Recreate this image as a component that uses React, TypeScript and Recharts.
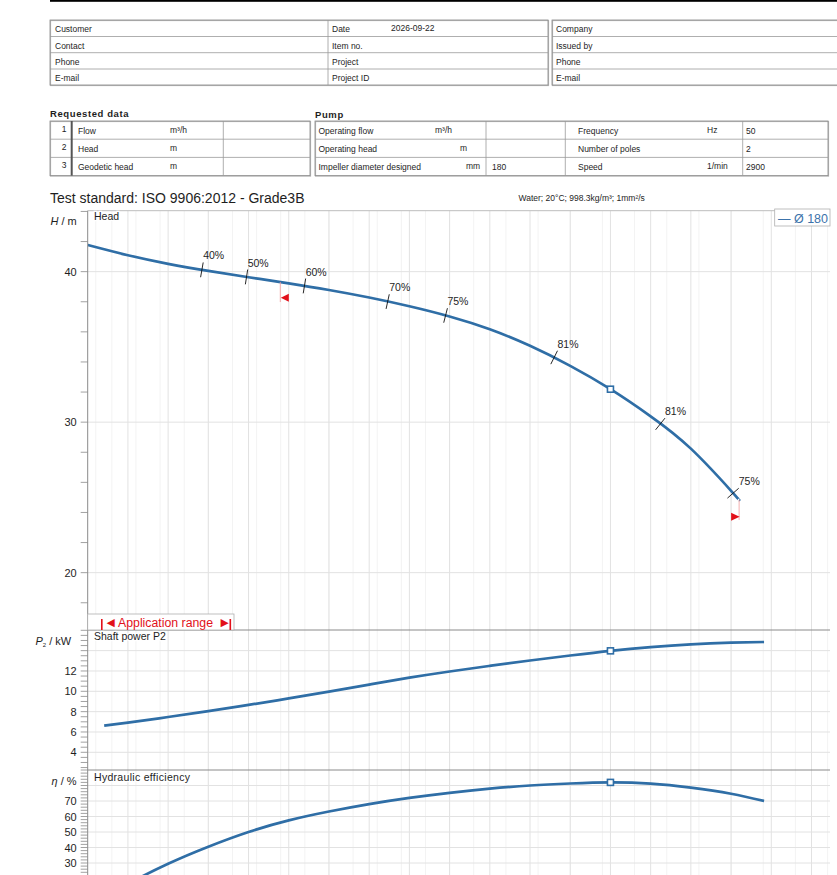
import React from 'react';
import { ComposedChart, Line, Scatter, XAxis, YAxis, CartesianGrid } from 'recharts';

// ---- data (flow in m³/h) ----
const FLOW_MAX = 184.6;
const gridFlows = [10, 20, 30, 40, 50, 60, 70, 80, 90, 100, 110, 120, 130, 140, 150, 160, 170, 180];

const headFlow = [0, 10, 20, 30, 40, 50, 60, 70, 80, 90, 100, 110, 120, 130, 140, 150, 160, 162];
const headValues = [41.77, 41.09, 40.52, 40.05, 39.63, 39.22, 38.78, 38.28, 37.7, 37.02, 36.17, 35.07, 33.74, 32.19, 30.39, 28.24, 25.44, 24.83];

const powerFlow = [4.1, 10, 20, 30, 40, 50, 60, 70, 80, 90, 100, 110, 120, 130, 140, 150, 160, 168.2];
const powerValues = [6.62, 6.92, 7.47, 8.05, 8.66, 9.3, 9.97, 10.66, 11.34, 11.95, 12.5, 13.03, 13.52, 13.98, 14.35, 14.62, 14.78, 14.85];

const effFlow = [4.1, 10, 20, 30, 40, 50, 60, 70, 80, 90, 100, 110, 120, 130, 140, 150, 160, 168.2];
const effValues = [7.5, 16.5, 29.5, 40.5, 50.0, 57.5, 63.2, 68.0, 72.0, 75.3, 78.0, 80.0, 81.3, 82.0, 81.2, 78.6, 74.7, 70.0];

// efficiency marks on the head curve
const effMarkFlow = [28.4, 39.5, 53.9, 74.6, 89, 116, 142.4, 160.5];
const effMarkHead = [40.12, 39.65, 39.05, 38.01, 37.09, 34.3, 29.88, 25.28];
const effMarkLabel = ['40%', '50%', '60%', '70%', '75%', '81%', '81%', '75%'];

// application range limits
const rangeFlow = [47.9, 162];
const rangeHead = [39.31, 24.83];
const rangeDir = ['left', 'right'];

// best efficiency point
const bepFlow = 130;
const bepHead = 32.19;
const bepPower = 13.98;
const bepEff = 82.0;

// axis ticks
const headLabels = [20, 30, 40];
const powerLabels = [4, 6, 8, 10, 12];
const effLabels = [10, 20, 30, 40, 50, 60, 70];
const powerGrid = [4, 6, 8, 10, 12, 14];
const effGrid = [10, 20, 30, 40, 50, 60, 70, 80];

const steps = (from: number, to: number, step: number) => {
  const out: number[] = [];
  for (let v = from; v <= to + 1e-9; v += step) out.push(Math.round(v * 100) / 100);
  return out;
};
const headTicks = steps(18, 44, 2);
const powerTicks = steps(2.5, 16, 0.5);
const effTicks = steps(2, 90, 2);
const minorFlows = steps(2, 184, 2);

// ---- look ----
const BLUE = '#2f6ea6';
const RED = '#e2101a';
const GRID = '#e2e2e2';
const GRID_MINOR = '#f3f3f3';
const AXIS = '#8a8a8a';
const INK = '#1e1e1e';
const FONT = '"Liberation Sans", Arial, Helvetica, sans-serif';

const PLOT_LEFT = 87.7;
const PLOT_RIGHT = 830;
const Y_AXIS_W = 40;
const CHART_W = 837;
const HEAD_DOMAIN: [number, number] = [16.19, 44.05];
const HEAD_PLOT_H = 419.3;
const FLOW_PX = (PLOT_RIGHT - PLOT_LEFT) / FLOW_MAX;
const HEAD_PX = HEAD_PLOT_H / (HEAD_DOMAIN[1] - HEAD_DOMAIN[0]);

const toRows = (xs: number[], ys: number[]) => xs.map((q, i) => ({ q, v: ys[i] }));
const headData = toRows(headFlow, headValues);
const powerData = toRows(powerFlow, powerValues);
const effData = toRows(effFlow, effValues);
const effMarks = effMarkFlow.map((q, i) => ({ q, v: effMarkHead[i], label: effMarkLabel[i] }));
const rangeMarks = rangeFlow.map((q, i) => ({ q, v: rangeHead[i], dir: rangeDir[i] }));

function headSlope(q: number) {
  for (let i = 0; i < headFlow.length - 1; i++) {
    if (q >= headFlow[i] && q <= headFlow[i + 1]) {
      return (headValues[i + 1] - headValues[i]) / (headFlow[i + 1] - headFlow[i]);
    }
  }
  return 0;
}

function AxisTick(props: any) {
  const { x, y, payload, labels } = props;
  const v = payload.value;
  return (
    <g>
      <line x1={x - 7} x2={x} y1={y} y2={y} stroke={AXIS} strokeWidth={0.8} />
      {labels.includes(v) && (
        <text x={x - 11} y={y} dy={4} textAnchor="end" fontSize={11} fill={INK} fontFamily={FONT}>
          {v}
        </text>
      )}
    </g>
  );
}

function EffMark(props: any) {
  const { cx, cy, payload } = props;
  if (cx == null || cy == null) return null;
  const dy = -headSlope(payload.q) * HEAD_PX / FLOW_PX;
  const len = Math.hypot(1, dy);
  const px = dy / len;
  const py = -1 / len;
  const half = 7.5;
  const tx = cx + px * half;
  const ty = cy + py * half;
  return (
    <g>
      <line x1={cx - px * half} y1={cy - py * half} x2={tx} y2={ty} stroke="#111" strokeWidth={0.9} />
      <text x={tx} y={ty - 3} fontSize={10.5} fill={INK} fontFamily={FONT}>
        {payload.label}
      </text>
    </g>
  );
}

function RangeMark(props: any) {
  const { cx, cy, payload } = props;
  if (cx == null || cy == null) return null;
  const left = payload.dir === 'left';
  const ty = cy + (left ? 15.6 : 16.7);
  const tri = left
    ? `${cx + 0.5},${ty} ${cx + 8.5},${ty - 4} ${cx + 8.5},${ty + 4}`
    : `${cx + 0.5},${ty} ${cx - 8},${ty - 4} ${cx - 8},${ty + 4}`;
  return (
    <g>
      <line x1={cx} x2={cx} y1={cy} y2={cy + 20} stroke="#f29a9a" strokeWidth={0.8} />
      <polygon points={tri} fill={RED} />
    </g>
  );
}

function BepMark(props: any) {
  const { cx, cy } = props;
  if (cx == null || cy == null) return null;
  return <rect x={cx - 3} y={cy - 3} width={6} height={6} fill="#fff" stroke={BLUE} strokeWidth={1.6} />;
}

type PanelProps = {
  top: number;
  height: number;
  margin: { top: number; bottom: number };
  domain: [number, number];
  ticks: number[];
  labels: number[];
  grid: number[];
  data: { q: number; v: number }[];
  bep: { q: number; v: number }[];
  children?: React.ReactNode;
};

function Panel({ top, height, margin, domain, ticks, labels, grid, data, bep, children }: PanelProps) {
  return (
    <div style={{ position: 'absolute', left: 0, top }}>
      <ComposedChart
        width={CHART_W}
        height={height}
        data={data}
        margin={{ top: margin.top, bottom: margin.bottom, left: PLOT_LEFT - Y_AXIS_W, right: CHART_W - PLOT_RIGHT }}
      >
        <CartesianGrid stroke={GRID_MINOR} horizontal={false} verticalValues={minorFlows} />
        <CartesianGrid stroke={GRID} verticalValues={gridFlows} horizontalValues={grid} />
        <XAxis type="number" dataKey="q" domain={[0, FLOW_MAX]} hide allowDataOverflow />
        <YAxis
          type="number"
          domain={domain}
          allowDataOverflow
          ticks={ticks}
          interval={0}
          width={Y_AXIS_W}
          tickLine={false}
          tickSize={0}
          tickMargin={0}
          axisLine={{ stroke: AXIS, strokeWidth: 1 }}
          tick={(p: any) => <AxisTick {...p} labels={labels} />}
        />
        <Line type="natural" dataKey="v" stroke={BLUE} strokeWidth={2.7} dot={false} isAnimationActive={false} />
        {children}
        <Scatter data={bep} dataKey="v" shape={(p: any) => <BepMark {...p} />} isAnimationActive={false} />
      </ComposedChart>
    </div>
  );
}

function Table({ x, y, w, rows, cols, thick }: { x: number; y: number; w: number; rows: number[]; cols: number[]; thick?: number }) {
  const h = rows[rows.length - 1] - y;
  return (
    <g>
      <rect x={x + 0.5} y={y + 0.5} width={w} height={h} fill="#fff" stroke="#b5b5b5" strokeWidth={1.2} />
      <rect x={x} y={y} width={w} height={h} fill="none" stroke="#8f8f8f" strokeWidth={0.8} />
      {rows.slice(1, -1).map((ry) => (
        <line key={ry} x1={x} x2={x + w} y1={ry} y2={ry} stroke="#9a9a9a" strokeWidth={0.8} />
      ))}
      {cols.map((cx) => (
        <line key={cx} x1={cx} x2={cx} y1={y} y2={y + h} stroke="#9a9a9a" strokeWidth={0.8} />
      ))}
      {thick != null && <line x1={thick} x2={thick} y1={y} y2={y + h} stroke="#555" strokeWidth={2} />}
    </g>
  );
}

const infoRows = [20, 36.5, 52.7, 69, 85];
const dataRows = [121, 139.2, 157.4, 175.6];
const customerFields = ['Customer', 'Contact', 'Phone', 'E-mail'];
const projectFields = ['Date', 'Item no.', 'Project', 'Project ID'];
const projectValues = ['2026-09-22', '', '', ''];
const companyFields = ['Company', 'Issued by', 'Phone', 'E-mail'];
const requestedFields = ['Flow', 'Head', 'Geodetic head'];
const requestedUnits = ['m³/h', 'm', 'm'];
const pumpFields = ['Operating flow', 'Operating head', 'Impeller diameter designed'];
const pumpUnits = ['m³/h', 'm', 'mm'];
const pumpUnitX = [435, 460, 466];
const pumpValues = ['', '', '180'];
const motorFields = ['Frequency', 'Number of poles', 'Speed'];
const motorUnits = ['Hz', '', '1/min'];
const motorValues = ['50', '2', '2900'];

function Sheet() {
  const t = { fontSize: 8.5, fill: INK, fontFamily: FONT } as const;
  return (
    <svg width={837} height={875} style={{ position: 'absolute', left: 0, top: 0 }}>
      <rect x={50} y={0} width={787} height={1.8} fill="#000" />

      <Table x={50} y={20} w={498} rows={infoRows} cols={[328]} />
      <Table x={552} y={20} w={290} rows={infoRows} cols={[]} />
      {customerFields.map((s, i) => (
        <text key={'c' + i} x={55} y={infoRows[i] + 12} {...t}>{s}</text>
      ))}
      {projectFields.map((s, i) => (
        <text key={'p' + i} x={332} y={infoRows[i] + 12} {...t}>{s}</text>
      ))}
      {projectValues.map((s, i) => (
        <text key={'pv' + i} x={391} y={infoRows[i] + 11} {...t}>{s}</text>
      ))}
      {companyFields.map((s, i) => (
        <text key={'co' + i} x={556} y={infoRows[i] + 12} {...t}>{s}</text>
      ))}

      <text x={50} y={117} fontSize={9.5} fontWeight="bold" letterSpacing={0.6} fill={INK} fontFamily={FONT}>Requested data</text>
      <text x={315} y={117.5} fontSize={9.5} fontWeight="bold" letterSpacing={0.6} fill={INK} fontFamily={FONT}>Pump</text>

      <Table x={50} y={121} w={260} rows={dataRows} cols={[223.3]} thick={71.7} />
      {requestedFields.map((s, i) => (
        <g key={'r' + i}>
          <text x={66.5} y={dataRows[i] + 10.5} textAnchor="end" {...t}>{i + 1}</text>
          <text x={78} y={dataRows[i] + 12.5} {...t}>{s}</text>
          <text x={170} y={dataRows[i] + 11.5} {...t}>{requestedUnits[i]}</text>
        </g>
      ))}

      <Table x={315} y={121} w={513} rows={dataRows} cols={[486, 565.3, 742.7]} />
      {pumpFields.map((s, i) => (
        <g key={'pu' + i}>
          <text x={318.5} y={dataRows[i] + 12.5} {...t}>{s}</text>
          <text x={pumpUnitX[i]} y={dataRows[i] + 11.5} {...t}>{pumpUnits[i]}</text>
          <text x={492} y={dataRows[i] + 12.5} {...t}>{pumpValues[i]}</text>
          <text x={578} y={dataRows[i] + 12.5} {...t}>{motorFields[i]}</text>
          <text x={707} y={dataRows[i] + 11.5} {...t}>{motorUnits[i]}</text>
          <text x={746} y={dataRows[i] + 12.5} {...t}>{motorValues[i]}</text>
        </g>
      ))}

      <text x={50} y={202.5} fontSize={14} fill={INK} fontFamily={FONT}>Test standard: ISO 9906:2012 - Grade3B</text>
      <text x={518.5} y={200.5} fontSize={8.5} fill={INK} fontFamily={FONT}>Water; 20°C; 998.3kg/m³; 1mm²/s</text>

      <text x={50.5} y={225} fontSize={11} fill={INK} fontFamily={FONT}>
        <tspan fontStyle="italic">H</tspan> / m
      </text>
      <text x={35.5} y={645} fontSize={11} fill={INK} fontFamily={FONT}>
        <tspan fontStyle="italic">P</tspan>
        <tspan fontSize={6} dy={2}>2</tspan>
        <tspan dy={-2}> / kW</tspan>
      </text>
      <text x={51.5} y={785} fontSize={11} fill={INK} fontFamily={FONT}>
        <tspan fontStyle="italic">η</tspan> / %
      </text>
    </svg>
  );
}

function Overlay() {
  return (
    <svg width={837} height={875} style={{ position: 'absolute', left: 0, top: 0, pointerEvents: 'none' }}>
      <line x1={PLOT_LEFT} x2={PLOT_RIGHT} y1={210.7} y2={210.7} stroke="#bdbdbd" strokeWidth={1} />
      <line x1={PLOT_LEFT} x2={PLOT_RIGHT} y1={630} y2={630} stroke={AXIS} strokeWidth={1} />
      <line x1={PLOT_LEFT} x2={PLOT_RIGHT} y1={770} y2={770} stroke={AXIS} strokeWidth={1} />

      <text x={94} y={220} fontSize={10.5} fill={INK} fontFamily={FONT} stroke="#fff" strokeWidth={2.5} paintOrder="stroke">Head</text>
      <text x={94} y={640} fontSize={10.5} fill={INK} fontFamily={FONT} stroke="#fff" strokeWidth={2.5} paintOrder="stroke">Shaft power P2</text>
      <text x={94} y={781} fontSize={10.5} letterSpacing={0.3} fill={INK} fontFamily={FONT} stroke="#fff" strokeWidth={2.5} paintOrder="stroke">Hydraulic efficiency</text>

      <rect x={774.7} y={209} width={55.3} height={17} fill="#fff" stroke="#b0b0b0" strokeWidth={0.8} />
      <text x={778} y={222.5} fontSize={12.5} fill="#3c73ab" fontFamily={FONT}>— Ø 180</text>

      <rect x={PLOT_LEFT} y={614} width={146.3} height={16} fill="#fff" stroke="#b0b0b0" strokeWidth={0.8} />
      <rect x={101} y={619} width={1.6} height={11} fill={RED} />
      <rect x={229.5} y={619} width={1.6} height={11} fill={RED} />
      <text x={104} y={627} fontSize={13.5} fill={RED} fontFamily={FONT}>◄</text>
      <text x={118} y={626.5} fontSize={12.3} fill={RED} fontFamily={FONT}>Application range</text>
      <text x={218} y={627} fontSize={13.5} fill={RED} fontFamily={FONT}>►</text>
    </svg>
  );
}

export default function App() {
  return (
    <div style={{ position: 'absolute', left: 0, top: 0, width: 837, height: 875, overflow: 'hidden', background: '#fff' }}>
      <Sheet />
      <Panel
        top={200}
        height={440}
        margin={{ top: 10.7, bottom: 10 }}
        domain={HEAD_DOMAIN}
        ticks={headTicks}
        labels={headLabels}
        grid={headLabels}
        data={headData}
        bep={[{ q: bepFlow, v: bepHead }]}
      >
        <Scatter data={effMarks} dataKey="v" shape={(p: any) => <EffMark {...p} />} isAnimationActive={false} />
        <Scatter data={rangeMarks} dataKey="v" shape={(p: any) => <RangeMark {...p} />} isAnimationActive={false} />
      </Panel>
      <Panel
        top={620}
        height={160}
        margin={{ top: 10, bottom: 10 }}
        domain={[2.26, 16.03]}
        ticks={powerTicks}
        labels={powerLabels}
        grid={powerGrid}
        data={powerData}
        bep={[{ q: bepFlow, v: bepPower }]}
      />
      <Panel
        top={760}
        height={160}
        margin={{ top: 10, bottom: 10.5 }}
        domain={[0, 90]}
        ticks={effTicks}
        labels={effLabels}
        grid={effGrid}
        data={effData}
        bep={[{ q: bepFlow, v: bepEff }]}
      />
      <Overlay />
    </div>
  );
}
